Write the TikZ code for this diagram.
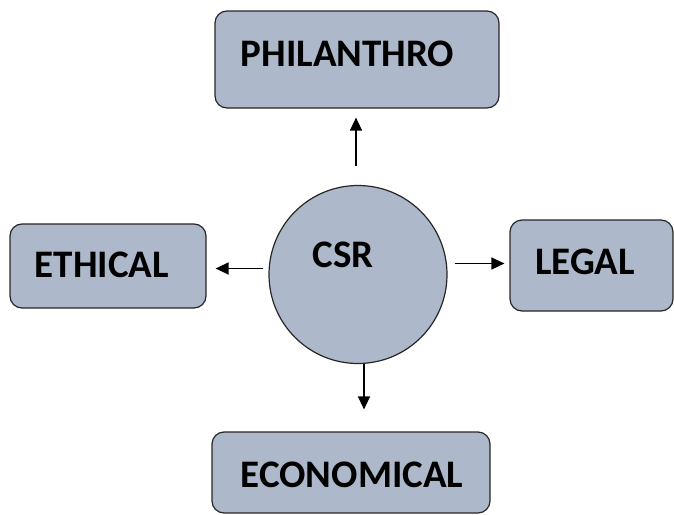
\documentclass[tikz,border=0pt]{standalone}
\usepackage{fontspec}
\setmainfont{Carlito}
\usetikzlibrary{arrows.meta}
\definecolor{csrblue}{HTML}{ADB9CA}
\begin{document}
\begin{tikzpicture}[
      x=1pt, y=-1pt,
      every node/.style={font=\fontsize{39}{45}\selectfont\bfseries},
      box/.style={draw=black!85, line width=1.2pt, fill=csrblue, rounded corners=12pt, inner sep=0pt},
      hub/.style={circle, draw=black!85, line width=1.2pt, fill=csrblue, inner sep=0pt, minimum size=178pt},
      arr/.style={-{Triangle[length=13pt,width=12pt]}, line width=1.4pt}
    ]
      \useasboundingbox (0,0) rectangle (674,514);
      \node[hub, label={[xshift=-15pt,yshift=19.5pt]center:CSR}] (csr) at (358,274.5) {};
      \node[box, minimum width=284pt, minimum height=97pt,
        label={[xshift=-9.5pt,yshift=6pt]center:PHILANTHRO}] (philo) at (357,59.5) {};
      \node[box, minimum width=196pt, minimum height=84pt,
        label={[xshift=-6pt,yshift=1.5pt]center:ETHICAL}] (ethic) at (108,266) {};
      \node[box, minimum width=163pt, minimum height=91pt,
        label={[xshift=-6.5pt,yshift=3.5pt]center:LEGAL}] (legal) at (591.5,265.5) {};
      \node[box, minimum width=278pt, minimum height=81pt,
        label={[xshift=1pt,yshift=-2pt]center:ECONOMICAL}] (econ) at (351,472.5) {};
      \draw[arr, shorten <=19pt, shorten >=9pt] ([xshift=-2pt]csr.north) -- ([xshift=-2pt]csr.north |- philo.south);
      \draw[arr, shorten >=22pt] ([xshift=6pt]csr.south) -- ([xshift=6pt]csr.south |- econ.north);
      \draw[arr, shorten <=5pt, shorten >=9pt] ([yshift=6pt]csr.west) -- ([yshift=6pt]csr.west -| ethic.east);
      \draw[arr, shorten <=7pt, shorten >=5pt] ([yshift=11pt]csr.east) -- ([yshift=11pt]csr.east -| legal.west);
    \end{tikzpicture}
\end{document}
